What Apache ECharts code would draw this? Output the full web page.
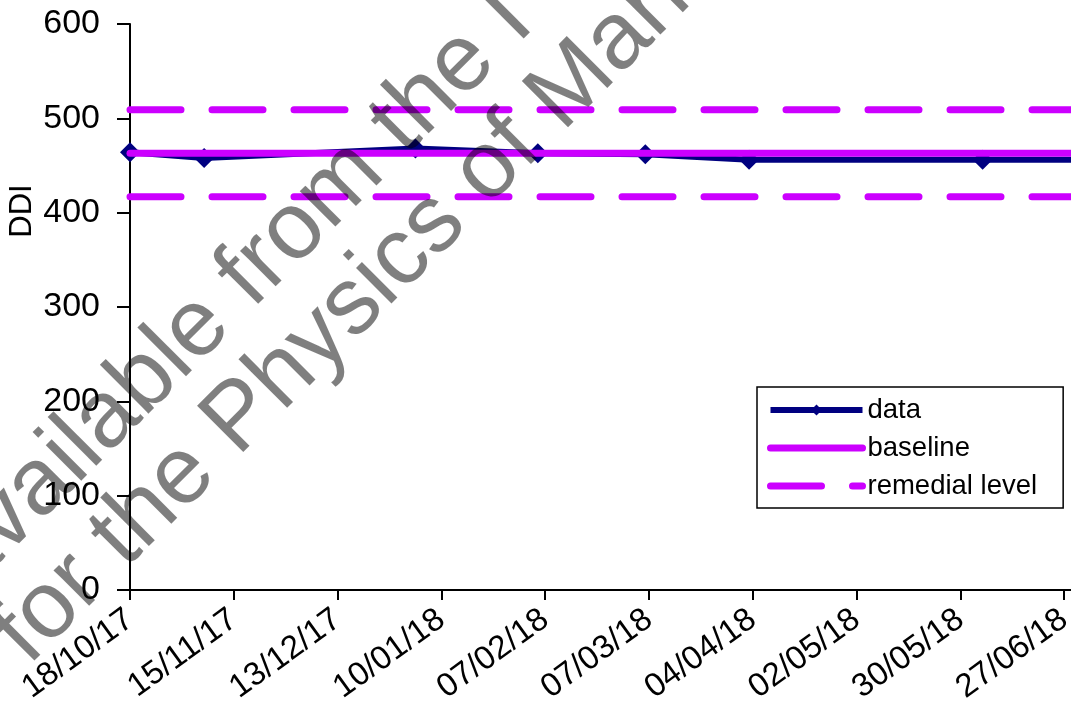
<!DOCTYPE html>
<html>
<head>
<meta charset="utf-8">
<script src="https://cdn.jsdelivr.net/npm/echarts@6/dist/echarts.min.js"></script>
<style>
  html, body { margin: 0; padding: 0; background: #ffffff; overflow: hidden; }
  #chart { width: 1071px; height: 709px; }
</style>
</head>
<body>
<div id="chart"></div>
<script>
// ---- data ----
const startDate = '18/10/17';              // first x tick
const tickStepDays = 28;                   // x tick spacing (days)
const axisMaxDays = 280;
const dates  = ['18/10/17', '07/11/17', '03/01/18', '05/02/18', '06/03/18', '03/04/18', '05/06/18', '11/07/18'];
const values = [464, 458, 468, 463, 462, 456, 456, 456];
const baselineValue = 463;
const remedialLow = 417;
const remedialHigh = 509;
const yTicks = [0, 100, 200, 300, 400, 500, 600];

// ---- helpers ----
function parseD(s) { const p = s.split('/'); return Date.UTC(2000 + +p[2], +p[1] - 1, +p[0]); }
const t0 = parseD(startDate);
const DAY = 86400000;
function dayOf(s) { return Math.round((parseD(s) - t0) / DAY); }
function fmt(d) {
  const dt = new Date(t0 + d * DAY);
  const p = n => String(n).padStart(2, '0');
  return p(dt.getUTCDate()) + '/' + p(dt.getUTCMonth() + 1) + '/' + p(dt.getUTCFullYear() % 100);
}

const chart = echarts.init(document.getElementById('chart'), null, { renderer: 'canvas' });

const FONT = '"Liberation Sans", Arial, sans-serif';
const MAG = '#CC00FF';
const NAVY = '#000080';
const WM = 'rgba(0,0,0,0.5)';

const option = {
  animation: false,
  backgroundColor: '#ffffff',
  grid: { left: 130, top: 24, width: 1038, height: 566, containLabel: false, outerBoundsMode: 'none' },
  xAxis: {
    type: 'value', min: 0, max: axisMaxDays, interval: tickStepDays,
    axisLine: { lineStyle: { color: '#000', width: 2 } },
    axisTick: { show: true, length: 10, lineStyle: { color: '#000', width: 2 } },
    splitLine: { show: false },
    axisLabel: {
      rotate: 36, margin: 26, color: '#000', fontSize: 33, fontFamily: FONT,
      showMaxLabel: false,
      formatter: v => (v >= axisMaxDays ? '' : fmt(v))
    }
  },
  yAxis: {
    type: 'value', min: yTicks[0], max: yTicks[yTicks.length - 1], interval: 100,
    axisLine: { show: true, lineStyle: { color: '#000', width: 2 } },
    axisTick: { show: true, length: 13, lineStyle: { color: '#000', width: 2 } },
    splitLine: { show: false },
    axisLabel: { margin: 30, color: '#000', fontSize: 34, fontFamily: FONT }
  },
  legend: {
    orient: 'vertical', left: 757, top: 387,
    padding: [9, 26, 8, 10],
    borderColor: '#000', borderWidth: 1.5,
    backgroundColor: '#fff',
    itemWidth: 92, itemHeight: 14, itemGap: 10,
    lineStyle: { width: 'inherit' },
    textStyle: { color: '#000', fontSize: 27.5, fontFamily: FONT },
    data: [
      { name: 'data', itemStyle: { opacity: 1 } },
      { name: 'baseline', itemStyle: { opacity: 0 } },
      { name: 'remedial level', itemStyle: { opacity: 0 } }
    ]
  },
  series: [
    {
      name: 'data', type: 'line',
      data: dates.map((d, i) => [dayOf(d), values[i]]),
      symbol: 'diamond', symbolSize: 20,
      itemStyle: { color: NAVY },
      lineStyle: { color: NAVY, width: 6 },
      z: 2
    },
    {
      name: 'baseline', type: 'line', symbol: 'none',
      data: [[0, baselineValue], [axisMaxDays, baselineValue]],
      itemStyle: { color: MAG },
      lineStyle: { color: MAG, width: 7, cap: 'round' },
      z: 3
    },
    {
      name: 'remedial level', type: 'line', symbol: 'none',
      data: [[0, remedialHigh], [axisMaxDays, remedialHigh]],
      itemStyle: { color: MAG },
      lineStyle: { color: MAG, width: 7, type: [51, 31], cap: 'round' },
      z: 3
    },
    {
      name: 'remedial level', type: 'line', symbol: 'none',
      data: [[0, remedialLow], [axisMaxDays, remedialLow]],
      itemStyle: { color: MAG },
      lineStyle: { color: MAG, width: 7, type: [51, 31], cap: 'round' },
      z: 3
    }
  ],
  graphic: [
    {
      type: 'text', x: 22, y: 211, rotation: Math.PI / 2, z: 50,
      style: { text: 'DDI', font: '31px ' + FONT, fill: '#000', align: 'center', verticalAlign: 'middle' }
    },
    {
      type: 'text', x: -50, y: 575, rotation: Math.PI / 4, z: 100,
      style: { text: 'available from the I', font: '95px ' + FONT, fill: WM, align: 'left', verticalAlign: 'middle' }
    },
    {
      type: 'text', x: 10, y: 648, rotation: Math.PI / 4, z: 100,
      style: { text: 'for the Physics of Man', font: '95px ' + FONT, fill: WM, align: 'left', verticalAlign: 'middle' }
    }
  ]
};
chart.setOption(option);
</script>
</body>
</html>
